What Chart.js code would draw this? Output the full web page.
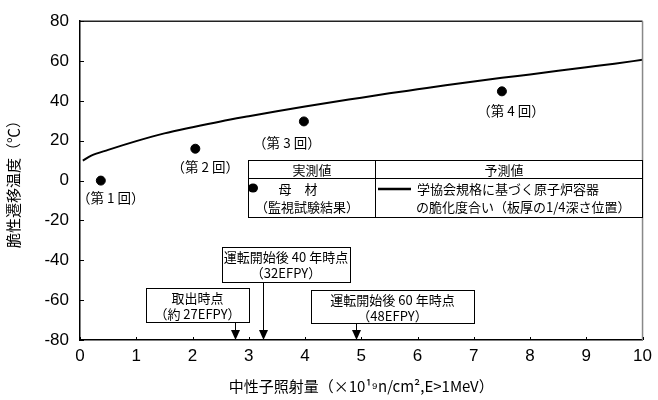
<!DOCTYPE html>
<html><head><meta charset="utf-8">
<script src="https://cdn.jsdelivr.net/npm/chart.js@4/dist/chart.umd.min.js"></script>
<style>html,body{margin:0;padding:0;background:#fff;}#wrap{width:658px;height:400px;}</style>
</head><body><div id="wrap"><canvas id="c" width="658" height="400"></canvas></div>
<script>
// Prediction curve
const curveX = [0.05,0.2,0.5,1,1.5,2,2.5,3,3.5,4,4.5,5,5.5,6,6.5,7,7.5,8,8.5,9,9.5,10];
const curveY = [10,12.5,15.4,19.8,23.7,26.8,29.7,32.3,34.8,37.2,39.5,41.6,43.8,45.8,47.8,49.7,51.6,53.3,55.1,56.9,58.7,60.6];
// Measured values (surveillance tests)
const measuredX = [0.37, 2.05, 3.98, 7.5];
const measuredY = [0, 16, 29.7, 44.8];
const measuredLabels = ['（第 1 回）','（第 2 回）','（第 3 回）','（第 4 回）'];
// Time markers on the x axis
const markerX = [2.76, 3.26, 4.9];
const markerText = [['取出時点','（約 27EFPY）'],['運転開始後 40 年時点','（32EFPY）'],['運転開始後 60 年時点','（48EFPY）']];
// Axis tick values
const xTicks = [0,1,2,3,4,5,6,7,8,9,10];
const yTicks = [-80,-60,-40,-20,0,20,40,60,80];
const legendHeaders = ['実測値','予測値'];
const legendMeasured = ['母　材','（監視試験結果）'];
const legendPredicted = ['学協会規格に基づく原子炉容器','の脆化度合い（板厚の1/4深さ位置）'];

const CJK = "'Noto Sans CJK JP', sans-serif";
const NUM = "'Liberation Sans', Arial, sans-serif";

const deco = {
  id: 'deco',
  afterDatasetsDraw(chart) {
    const ctx = chart.ctx, a = chart.chartArea;
    const xs = chart.scales.x, ys = chart.scales.y;
    ctx.save();
    // frame top/right
    ctx.strokeStyle = '#222'; ctx.lineWidth = 1.5;
    ctx.beginPath(); ctx.moveTo(a.left, a.top); ctx.lineTo(a.right, a.top); ctx.stroke();
    ctx.strokeStyle = '#888'; ctx.lineWidth = 1.5;
    ctx.beginPath(); ctx.moveTo(a.right, a.top); ctx.lineTo(a.right, a.bottom); ctx.stroke();
    // inward ticks
    ctx.strokeStyle = '#000'; ctx.lineWidth = 1;
    yTicks.forEach(v => { const y = Math.round(ys.getPixelForValue(v)) + 0.5; ctx.beginPath(); ctx.moveTo(a.left, y); ctx.lineTo(a.left + 4, y); ctx.stroke(); });
    xTicks.forEach(v => { const x = Math.round(xs.getPixelForValue(v)) + 0.5; ctx.beginPath(); ctx.moveTo(x, a.bottom); ctx.lineTo(x, a.bottom - 3); ctx.stroke(); });
    // point labels
    const offs = [[10,17],[10,18],[-17,21],[9,20]];
    ctx.fillStyle = '#000'; ctx.font = '13.5px ' + CJK; ctx.textAlign = 'center'; ctx.textBaseline = 'middle';
    measuredX.forEach((v, i) => {
      const px = xs.getPixelForValue(v), py = ys.getPixelForValue(measuredY[i]);
      ctx.fillText(measuredLabels[i], px + offs[i][0], py + offs[i][1]);
    });
    // legend table
    ctx.fillStyle = '#fff'; ctx.fillRect(248, 160, 394, 57);
    ctx.strokeStyle = '#000'; ctx.lineWidth = 1;
    ctx.strokeRect(248.5, 160.5, 394, 57);
    ctx.beginPath(); ctx.moveTo(248, 178.5); ctx.lineTo(642, 178.5); ctx.moveTo(375.5, 160); ctx.lineTo(375.5, 217); ctx.stroke();
    ctx.fillStyle = '#000'; ctx.font = '13px ' + CJK; ctx.textAlign = 'center';
    ctx.fillText(legendHeaders[0], 312, 170); ctx.fillText(legendHeaders[1], 504, 170);
    ctx.beginPath(); ctx.ellipse(253, 188, 5, 4.5, 0, 0, Math.PI * 2); ctx.fill();
    ctx.fillText(legendMeasured[0], 298, 189); ctx.fillText(legendMeasured[1], 307, 207);
    ctx.lineWidth = 2.5; ctx.beginPath(); ctx.moveTo(378, 189); ctx.lineTo(411, 189); ctx.stroke();
    ctx.textAlign = 'left';
    ctx.fillText(legendPredicted[0], 417, 189); ctx.fillText(legendPredicted[1], 416, 207);
    // annotation boxes & arrows
    const boxes = [[146,288,103,34],[222,247,128,35],[311,290,163,33]];
    markerX.forEach((v, i) => {
      const b = boxes[i];
      const px = Math.round(xs.getPixelForValue(v)) + 0.5;
      ctx.fillStyle = '#fff'; ctx.fillRect(b[0], b[1], b[2], b[3]);
      ctx.strokeStyle = '#000'; ctx.lineWidth = 1;
      ctx.strokeRect(b[0] + 0.5, b[1] + 0.5, b[2], b[3]);
      ctx.fillStyle = '#000'; ctx.textAlign = 'center'; ctx.font = '13px ' + CJK;
      const cx = b[0] + b[2] / 2;
      ctx.fillText(markerText[i][0], cx, b[1] + 10);
      ctx.fillText(markerText[i][1], cx, b[1] + 26);
      ctx.beginPath(); ctx.moveTo(px, b[1] + b[3]); ctx.lineTo(px, a.bottom - 8); ctx.stroke();
      ctx.beginPath(); ctx.moveTo(px - 4.5, a.bottom - 10); ctx.lineTo(px + 4.5, a.bottom - 10); ctx.lineTo(px, a.bottom); ctx.closePath(); ctx.fill();
    });
    ctx.restore();
  }
};

new Chart(document.getElementById('c'), {
  data: {
    datasets: [
      { type: 'line', data: curveX.map((x, i) => ({x, y: curveY[i]})), borderColor: '#000', borderWidth: 2, pointRadius: 0, cubicInterpolationMode: 'monotone', fill: false },
      { type: 'scatter', data: measuredX.map((x, i) => ({x, y: measuredY[i]})), backgroundColor: '#000', borderColor: '#000', pointRadius: 4.5, pointStyle: 'circle' }
    ]
  },
  options: {
    responsive: false, animation: false,
    layout: { padding: { top: 10, right: 13, left: 0, bottom: 0 } },
    plugins: { legend: { display: false }, tooltip: { enabled: false } },
    scales: {
      x: {
        type: 'linear', min: 0, max: 10,
        afterFit(s) { s.height = 60; },
        afterBuildTicks(s) { s.ticks = xTicks.map(v => ({value: v})); },
        ticks: { color: '#000', font: { family: NUM, size: 17 }, padding: 6, maxRotation: 0 },
        grid: { display: false, drawOnChartArea: false, tickLength: 0 },
        border: { display: true, color: '#000', width: 1.5 },
        title: { display: true, text: '中性子照射量（×10¹⁹n/cm²,E>1MeV）', color: '#000', font: { family: CJK, size: 15 }, padding: { top: 0, bottom: 5 } }
      },
      y: {
        type: 'linear', min: -80, max: 80,
        afterFit(s) { s.width = 80; },
        afterBuildTicks(s) { s.ticks = yTicks.map(v => ({value: v})); },
        ticks: { color: '#000', font: { family: NUM, size: 17 }, padding: 11 },
        grid: { display: false, drawOnChartArea: false, tickLength: 0 },
        border: { display: true, color: '#000', width: 1.5 },
        title: { display: true, text: '脆性遷移温度（℃）', color: '#000', font: { family: CJK, size: 15 }, padding: { top: 4, bottom: 0 } }
      }
    }
  },
  plugins: [deco]
});
</script></body></html>
